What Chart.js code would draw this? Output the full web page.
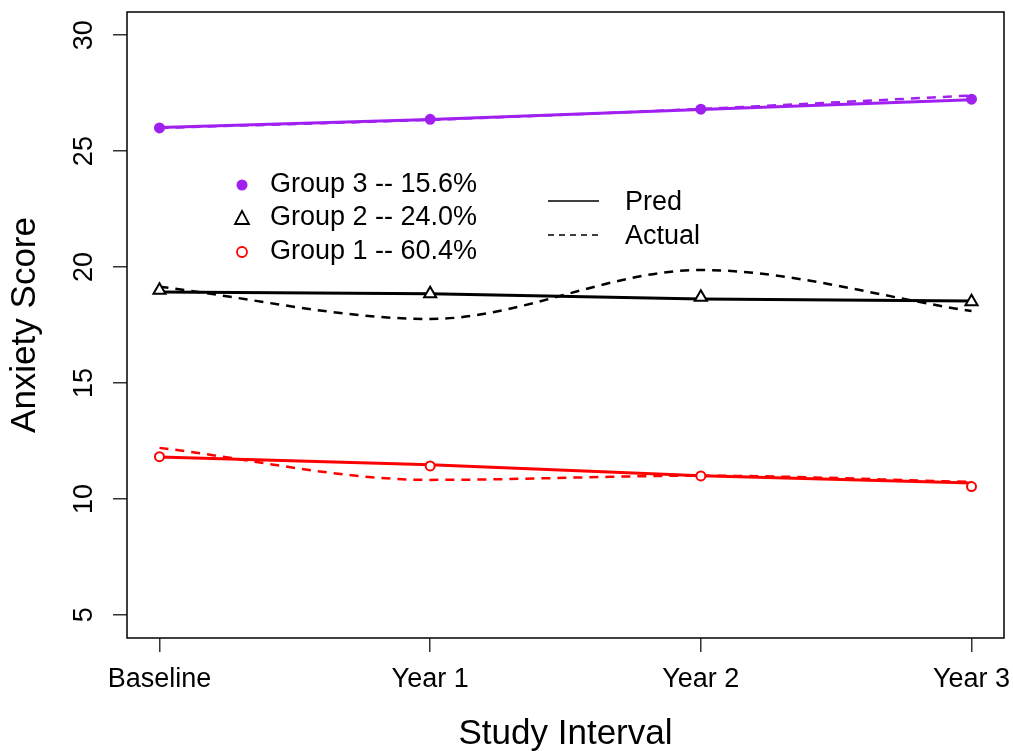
<!doctype html>
<html lang="en">
  <head>
    <meta charset="UTF-8" />
    <title>Anxiety Score by Study Interval</title>
    <script src="https://cdn.jsdelivr.net/npm/chart.js"></script>
    <style>
      body {
        margin: 0;
        background: #fff;
      }
      #wrap {
        width: 1013px;
        height: 751px;
        position: relative;
      }
    </style>
  </head>
  <body>
    <div id="wrap"><canvas id="anxietyChart"></canvas></div>

    <script>
      const intervals = ["Baseline", "Year 1", "Year 2", "Year 3"];
      const intervalPos = [0, 1, 2, 3];
      const yTicks = [5, 10, 15, 20, 25, 30];

      const group3Pred = [26.02, 26.36, 26.8, 27.22];
      const group3Actual = [26.0, 26.35, 26.82, 27.4];
      const group3Marks = [26.0, 26.37, 26.81, 27.24];

      const group2Pred = [18.92, 18.85, 18.62, 18.53];
      const group2Actual = [19.15, 17.76, 19.87, 18.1];
      const group2Marks = [19.0, 18.85, 18.7, 18.5];

      const group1Pred = [11.81, 11.47, 11.0, 10.69];
      const group1Actual = [12.2, 10.82, 11.0, 10.73];
      const group1Marks = [11.82, 11.42, 10.99, 10.53];

      const groupLabels = ["Group 3 -- 15.6%", "Group 2 -- 24.0%", "Group 1 -- 60.4%"];
      const typeLabels = ["Pred", "Actual"];

      const PURPLE = "#a020f0";
      const RED = "#ff0000";
      const BLACK = "#000000";
      const FONT = '"Liberation Sans", Arial, sans-serif';

      Chart.defaults.font.family = FONT;

      const pts = (vals) => vals.map((v, i) => ({ x: intervalPos[i], y: v }));

      const predLine = (vals, color) => ({
        data: pts(vals),
        borderColor: color,
        borderWidth: 3,
        pointRadius: 0,
        tension: 0,
        fill: false,
      });

      const actualLine = (vals, color) => ({
        data: pts(vals),
        borderColor: color,
        borderWidth: 2.5,
        borderDash: [9, 7],
        pointRadius: 0,
        cubicInterpolationMode: "monotone",
        fill: false,
      });

      const markSet = (vals, style, color, filled, r) => ({
        data: pts(vals),
        showLine: false,
        pointStyle: style,
        pointRadius: r,
        pointBorderColor: color,
        pointBackgroundColor: filled ? color : "#ffffff",
        pointBorderWidth: 2,
      });

      // box round the plot + the two keys, drawn like the R legend
      const frameAndKey = {
        id: "frameAndKey",
        afterDraw(chart) {
          const { ctx, chartArea: a } = chart;
          ctx.save();
          ctx.strokeStyle = BLACK;
          ctx.lineWidth = 1.5;
          ctx.strokeRect(a.left, a.top, a.right - a.left, a.bottom - a.top);

          ctx.font = "27px " + FONT;
          ctx.textBaseline = "middle";
          ctx.textAlign = "left";
          ctx.fillStyle = BLACK;

          const rows = [185, 218, 252];
          // group 3: filled purple dot
          ctx.fillStyle = PURPLE;
          ctx.beginPath();
          ctx.arc(242, rows[0], 5.5, 0, Math.PI * 2);
          ctx.fill();
          // group 2: open triangle
          ctx.strokeStyle = BLACK;
          ctx.lineWidth = 1.8;
          ctx.beginPath();
          ctx.moveTo(242, rows[1] - 7);
          ctx.lineTo(249, rows[1] + 6);
          ctx.lineTo(235, rows[1] + 6);
          ctx.closePath();
          ctx.stroke();
          // group 1: open red circle
          ctx.strokeStyle = RED;
          ctx.beginPath();
          ctx.arc(242, rows[2], 5, 0, Math.PI * 2);
          ctx.stroke();

          ctx.fillStyle = BLACK;
          groupLabels.forEach((t, i) => ctx.fillText(t, 270, rows[i]));

          // line type key
          ctx.strokeStyle = BLACK;
          ctx.lineWidth = 1.5;
          ctx.beginPath();
          ctx.moveTo(548, 201);
          ctx.lineTo(599, 201);
          ctx.stroke();
          ctx.setLineDash([6, 5]);
          ctx.beginPath();
          ctx.moveTo(548, 235);
          ctx.lineTo(599, 235);
          ctx.stroke();
          ctx.setLineDash([]);
          ctx.fillText(typeLabels[0], 625, 203);
          ctx.fillText(typeLabels[1], 625, 237);
          ctx.restore();
        },
      };

      const ctx = document.getElementById("anxietyChart").getContext("2d");
      new Chart(ctx, {
        type: "line",
        data: {
          datasets: [
            markSet(group3Marks, "circle", PURPLE, true, 4.5),
            markSet(group2Marks, "triangle", BLACK, false, 7),
            markSet(group1Marks, "circle", RED, false, 4.5),
            actualLine(group3Actual, PURPLE),
            actualLine(group2Actual, BLACK),
            actualLine(group1Actual, RED),
            predLine(group3Pred, PURPLE),
            predLine(group2Pred, BLACK),
            predLine(group1Pred, RED),
          ],
        },
        options: {
          responsive: true,
          maintainAspectRatio: false,
          animation: false,
          devicePixelRatio: 1,
          layout: { padding: { top: 12, right: 8, left: 0, bottom: 0 } },
          plugins: {
            legend: { display: false },
            tooltip: { enabled: false },
          },
          scales: {
            x: {
              type: "linear",
              min: -0.12,
              max: 3.12,
              afterBuildTicks: (s) => {
                s.ticks = intervalPos.map((v) => ({ value: v }));
              },
              afterFit: (s) => {
                s.height = 113;
                s.paddingLeft = 0;
                s.paddingRight = 0;
              },
              grid: {
                drawOnChartArea: false,
                tickLength: 14,
                color: "#333",
                lineWidth: 1.5,
              },
              border: { display: false },
              ticks: {
                callback: (v, i) => intervals[i],
                color: BLACK,
                font: { size: 27 },
                padding: 11,
                maxRotation: 0,
                autoSkip: false,
              },
              title: {
                display: true,
                text: "Study Interval",
                color: BLACK,
                font: { size: 35, lineHeight: 0.94 },
                padding: { top: 0, bottom: 0 },
              },
            },
            y: {
              min: 4,
              max: 31,
              afterBuildTicks: (s) => {
                s.ticks = yTicks.map((v) => ({ value: v }));
              },
              afterFit: (s) => {
                s.width = 127;
                s.paddingTop = 0;
                s.paddingBottom = 0;
              },
              grid: {
                drawOnChartArea: false,
                tickLength: 14,
                color: "#333",
                lineWidth: 1.5,
              },
              border: { display: false },
              ticks: {
                color: BLACK,
                font: { size: 27 },
                minRotation: 90,
                maxRotation: 90,
                crossAlign: "center",
                padding: 13,
              },
              title: {
                display: true,
                text: "Anxiety Score",
                color: BLACK,
                font: { size: 35 },
                padding: { top: 4, bottom: 0 },
              },
            },
          },
        },
        plugins: [frameAndKey],
      });
    </script>
  </body>
</html>
